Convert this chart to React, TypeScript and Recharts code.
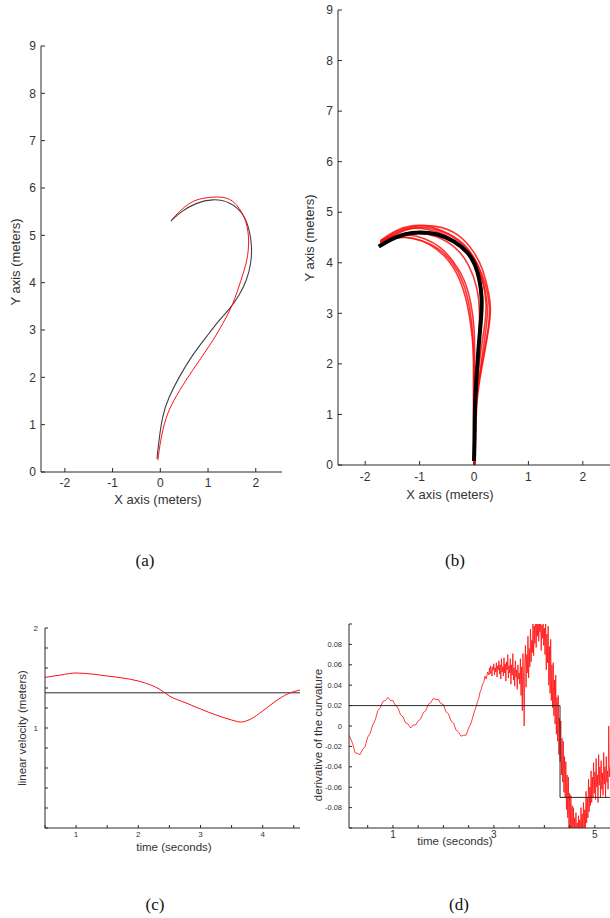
import { LineChart, Line, XAxis, YAxis, Label, ReferenceLine } from "recharts";

const INK = "#2a2a2a";
const TEXT = "#333333";
const RED = "#ff1010";
const SANS = "'Liberation Sans', Arial, sans-serif";
const SERIF = "'Liberation Serif', 'Times New Roman', serif";

type Pair = [number, number];

// (a) one run: planned path vs executed path, (x, y) in meters
const aTicksX = [-2, -1, 0, 1, 2];
const aTicksY = [0, 1, 2, 3, 4, 5, 6, 7, 8, 9];
const aPlanned: Pair[] = [
  [-0.07, 0.28], [-0.035, 0.6], [0.05, 1.16], [0.19, 1.59], [0.4, 2.01], [0.68, 2.47],
  [0.96, 2.85], [1.24, 3.21], [1.45, 3.45], [1.65, 3.74], [1.8, 4.05], [1.89, 4.4],
  [1.91, 4.76], [1.86, 5.11], [1.72, 5.45], [1.45, 5.68], [1.1, 5.75], [0.75, 5.67],
  [0.45, 5.5], [0.22, 5.3],
];
const aExecuted: Pair[] = [
  [-0.05, 0.25], [0.01, 0.67], [0.12, 1.13], [0.29, 1.52], [0.54, 1.94], [0.82, 2.36],
  [1.1, 2.78], [1.31, 3.14], [1.52, 3.56], [1.69, 4.05], [1.81, 4.47], [1.85, 4.9],
  [1.79, 5.29], [1.65, 5.57], [1.45, 5.76], [1.17, 5.81], [0.89, 5.78], [0.64, 5.69],
  [0.4, 5.5], [0.24, 5.33],
];

// (b) repeated runs
const bTicksX = [-2, -1, 0, 1, 2];
const bTicksY = [0, 1, 2, 3, 4, 5, 6, 7, 8, 9];
const bPlanned: Pair[] = [
  [0.0, 0.08], [0.01, 0.6], [0.02, 1.2], [0.05, 1.8], [0.09, 2.4], [0.13, 2.9], [0.14, 3.3],
  [0.1, 3.65], [0.02, 3.95], [-0.12, 4.2], [-0.37, 4.42], [-0.67, 4.56], [-1.0, 4.6],
  [-1.28, 4.56], [-1.52, 4.46], [-1.75, 4.32],
];
const bRun1: Pair[] = [
  [0.02, 0.0], [0.03, 0.6], [0.06, 1.3], [0.14, 1.9], [0.24, 2.5], [0.3, 3.0], [0.27, 3.4],
  [0.16, 3.85], [0.0, 4.2], [-0.3, 4.55], [-0.7, 4.72], [-1.1, 4.72], [-1.45, 4.6], [-1.72, 4.43],
];
const bRun2: Pair[] = [
  [0.01, 0.0], [0.02, 0.8], [0.05, 1.5], [0.12, 2.2], [0.2, 2.8], [0.22, 3.2], [0.17, 3.6],
  [0.05, 4.0], [-0.2, 4.35], [-0.55, 4.6], [-0.95, 4.7], [-1.3, 4.63], [-1.72, 4.42],
];
const bRun3: Pair[] = [
  [0.0, 0.0], [0.0, 1.0], [0.03, 1.7], [0.08, 2.4], [0.1, 3.0], [0.05, 3.5], [-0.1, 3.95],
  [-0.35, 4.3], [-0.7, 4.52], [-1.05, 4.58], [-1.4, 4.52], [-1.72, 4.4],
];
const bRun4: Pair[] = [
  [0.0, 0.0], [-0.01, 1.1], [-0.01, 1.8], [-0.02, 2.5], [-0.08, 3.1], [-0.2, 3.6], [-0.4, 4.0],
  [-0.65, 4.27], [-0.95, 4.43], [-1.25, 4.5], [-1.5, 4.48], [-1.72, 4.4],
];
const bRun5: Pair[] = [
  [0.0, 0.0], [0.0, 1.2], [0.0, 2.0], [-0.04, 2.6], [-0.13, 3.2], [-0.28, 3.7], [-0.5, 4.08],
  [-0.8, 4.35], [-1.1, 4.48], [-1.4, 4.5], [-1.72, 4.41],
];
const bRun6: Pair[] = [
  [0.01, 0.0], [0.02, 1.0], [0.08, 1.6], [0.17, 2.3], [0.24, 2.9], [0.22, 3.35], [0.1, 3.8],
  [-0.1, 4.15], [-0.45, 4.5], [-0.85, 4.66], [-1.25, 4.66], [-1.72, 4.42],
];
const bRun7: Pair[] = [
  [0.0, 0.0], [0.0, 1.4], [0.01, 2.1], [0.0, 2.7], [-0.06, 3.2], [-0.18, 3.65], [-0.38, 4.02],
  [-0.62, 4.3], [-0.9, 4.47], [-1.2, 4.55], [-1.5, 4.52], [-1.72, 4.42],
];
const bRun8: Pair[] = [
  [0.02, 0.0], [0.03, 0.9], [0.07, 1.5], [0.16, 2.1], [0.26, 2.7], [0.28, 3.15], [0.2, 3.6],
  [0.05, 4.0], [-0.2, 4.38], [-0.6, 4.64], [-1.0, 4.74], [-1.4, 4.65], [-1.72, 4.44],
];
const bRuns = [bRun1, bRun2, bRun3, bRun4, bRun5, bRun6, bRun7, bRun8];

// (c) linear velocity over time
const cTicksX = [0.5, 1, 1.5, 2, 2.5, 3, 3.5, 4, 4.5];
const cTicksY = [0, 0.2, 0.4, 0.6, 0.8, 1, 1.2, 1.4, 1.6, 1.8, 2];
const cTime = [0.5, 0.75, 1.0, 1.25, 1.5, 1.75, 2.0, 2.2, 2.35, 2.5, 2.75, 3.0, 3.25, 3.5, 3.65, 3.8, 4.0, 4.2, 4.4, 4.6];
const cVelocity = [1.506, 1.53, 1.55, 1.54, 1.52, 1.5, 1.47, 1.43, 1.385, 1.32, 1.255, 1.19, 1.13, 1.08, 1.06, 1.087, 1.17, 1.265, 1.34, 1.38];
const cCommanded = 1.352;

// (d) derivative of the curvature over time
const dTicksX = [0.5, 1, 1.5, 2, 2.5, 3, 3.5, 4, 4.5, 5];
const dTicksY = [-0.1, -0.08, -0.06, -0.04, -0.02, 0, 0.02, 0.04, 0.06, 0.08, 0.1];
const dMeasured: Pair[] = [
  [0.13, -0.009], [0.15, -0.011], [0.2, -0.017], [0.25, -0.026], [0.3, -0.027], [0.35, -0.028],
  [0.4, -0.023], [0.45, -0.02], [0.5, -0.011], [0.55, -0.007], [0.6, 0.001], [0.65, 0.006],
  [0.7, 0.015], [0.75, 0.018], [0.8, 0.024], [0.85, 0.025], [0.9, 0.028], [0.95, 0.025],
  [1.0, 0.025], [1.05, 0.02], [1.1, 0.018], [1.15, 0.011], [1.2, 0.009], [1.25, 0.003],
  [1.3, 0.002], [1.35, -0.002], [1.4, 0.001], [1.45, 0.001], [1.5, 0.005], [1.55, 0.007],
  [1.6, 0.013], [1.65, 0.015], [1.7, 0.021], [1.75, 0.023], [1.8, 0.027], [1.85, 0.026],
  [1.9, 0.026], [1.95, 0.022], [2.0, 0.021], [2.05, 0.014], [2.1, 0.012], [2.15, 0.005],
  [2.2, 0.003], [2.25, -0.004], [2.3, -0.006], [2.35, -0.01], [2.4, -0.009], [2.45, -0.009],
  [2.5, -0.002], [2.55, 0.003], [2.6, 0.012],
  [2.625, 0.016], [2.65, 0.019], [2.675, 0.024], [2.7, 0.027], [2.725, 0.033], [2.75, 0.036],
  [2.775, 0.041], [2.8, 0.043], [2.825, 0.049], [2.85, 0.046], [2.875, 0.053], [2.9, 0.05],
  [2.9125, 0.057], [2.925, 0.051], [2.9375, 0.059], [2.95, 0.054], [2.9625, 0.049], [2.975, 0.058],
  [2.9875, 0.055], [3.0, 0.061], [3.0125, 0.05], [3.025, 0.057], [3.0375, 0.053], [3.05, 0.062],
  [3.0625, 0.048], [3.075, 0.059], [3.0875, 0.055], [3.1, 0.064], [3.1125, 0.051], [3.125, 0.06],
  [3.1375, 0.046], [3.15, 0.066], [3.1625, 0.053], [3.175, 0.058], [3.1875, 0.049], [3.2, 0.067],
  [3.2125, 0.052], [3.225, 0.061], [3.2375, 0.044], [3.25, 0.063], [3.2625, 0.055], [3.275, 0.07],
  [3.2875, 0.047], [3.3, 0.059], [3.3125, 0.052], [3.325, 0.066], [3.3375, 0.041], [3.35, 0.06],
  [3.3625, 0.05], [3.375, 0.071], [3.3875, 0.045], [3.4, 0.057], [3.4125, 0.039], [3.425, 0.064],
  [3.4375, 0.048], [3.45, 0.055], [3.4625, 0.036], [3.475, 0.06], [3.4875, 0.046], [3.5, 0.052],
  [3.5125, 0.041], [3.525, 0.066], [3.5375, 0.03], [3.55, 0.058], [3.5625, 0.015], [3.575, 0.071],
  [3.5875, 0.045], [3.6, 0.0], [3.6125, 0.062], [3.625, 0.079], [3.6375, 0.038], [3.65, 0.07],
  [3.6625, 0.052], [3.675, 0.088], [3.6875, 0.047], [3.7, 0.076], [3.7125, 0.058], [3.725, 0.095],
  [3.7375, 0.063], [3.75, 0.084], [3.7625, 0.072], [3.775, 0.105], [3.7875, 0.069], [3.8, 0.098],
  [3.8125, 0.081], [3.825, 0.11], [3.8375, 0.077], [3.85, 0.104], [3.8625, 0.088], [3.875, 0.112],
  [3.8875, 0.083], [3.9, 0.101], [3.9125, 0.092], [3.925, 0.108], [3.9375, 0.074], [3.95, 0.099],
  [3.9625, 0.086], [3.975, 0.111], [3.9875, 0.079], [4.0, 0.096], [4.0125, 0.07], [4.025, 0.104],
  [4.0375, 0.055], [4.05, 0.09], [4.0625, 0.062], [4.075, 0.098], [4.0875, 0.04], [4.1, 0.078],
  [4.1125, 0.032], [4.125, 0.085], [4.1375, 0.025], [4.15, 0.06], [4.1625, 0.018], [4.175, 0.062],
  [4.1875, 0.01], [4.2, 0.045], [4.2125, 0.002], [4.225, 0.05], [4.2375, -0.008], [4.25, 0.028],
  [4.2625, -0.015], [4.275, 0.03], [4.2875, -0.028], [4.3, 0.008], [4.3125, -0.035], [4.325, 0.005],
  [4.3375, -0.048], [4.35, -0.012], [4.3625, -0.055], [4.375, -0.015], [4.3875, -0.065], [4.4, -0.03],
  [4.4125, -0.07], [4.425, -0.035], [4.4375, -0.082], [4.45, -0.048], [4.4625, -0.09], [4.475, -0.05],
  [4.4875, -0.1], [4.5, -0.066], [4.5125, -0.108], [4.525, -0.068], [4.5375, -0.112], [4.55, -0.078],
  [4.5625, -0.115], [4.575, -0.08], [4.5875, -0.108], [4.6, -0.09], [4.6125, -0.118], [4.625, -0.085],
  [4.6375, -0.112], [4.65, -0.095], [4.6625, -0.12], [4.675, -0.088], [4.6875, -0.11], [4.7, -0.092],
  [4.7125, -0.116], [4.725, -0.08], [4.7375, -0.108], [4.75, -0.086], [4.7625, -0.112], [4.775, -0.075],
  [4.7875, -0.104], [4.8, -0.082], [4.8125, -0.1], [4.825, -0.064], [4.8375, -0.095], [4.85, -0.07],
  [4.8625, -0.09], [4.875, -0.052], [4.8875, -0.084], [4.9, -0.06], [4.9125, -0.078], [4.925, -0.044],
  [4.9375, -0.075], [4.95, -0.05], [4.9625, -0.07], [4.975, -0.036], [4.9875, -0.066], [5.0, -0.045],
  [5.0125, -0.072], [5.025, -0.032], [5.0375, -0.06], [5.05, -0.048], [5.0625, -0.075], [5.075, -0.028],
  [5.0875, -0.058], [5.1, -0.04], [5.1125, -0.07], [5.125, -0.034], [5.1375, -0.062], [5.15, -0.046],
  [5.1625, -0.068], [5.175, -0.026], [5.1875, -0.057], [5.2, -0.04], [5.2125, -0.07], [5.225, -0.03],
  [5.2375, -0.055], [5.25, -0.044], [5.2625, -0.062], [5.275, 0.0], [5.2875, -0.05], [5.3, -0.04],
];
const dStepTime = [0.13, 4.31, 4.31, 5.3];
const dStepValue = [0.02, 0.02, -0.07, -0.07];

const toPoints = (pairs: Pair[]) => pairs.map(([x, y]) => ({ x, y }));
const zipPoints = (xs: number[], ys: number[]) => xs.map((x, i) => ({ x, y: ys[i] }));

function title(text: string, x: number, y: number, size: number, vertical = false) {
  return (
    <Label
      content={() => (
        <text
          x={x}
          y={y}
          fill={TEXT}
          fontSize={size}
          fontFamily={SANS}
          textAnchor="middle"
          dominantBaseline="central"
          transform={vertical ? `rotate(-90 ${x} ${y})` : undefined}
        >
          {text}
        </text>
      )}
    />
  );
}

const axisLine = { stroke: INK };
const tickLine = { stroke: INK };

function Caption({ text, x, y }: { text: string; x: number; y: number }) {
  return (
    <div
      style={{
        position: "absolute",
        left: x - 30,
        top: y - 12,
        width: 60,
        textAlign: "center",
        fontFamily: SERIF,
        fontSize: 17,
        color: "#111",
        lineHeight: "24px",
      }}
    >
      {text}
    </div>
  );
}

export default function App() {
  return (
    <div style={{ position: "absolute", left: 0, top: 0, width: 610, height: 918, background: "#fff", overflow: "hidden" }}>
      {/* (a) */}
      <div style={{ position: "absolute", left: 0, top: 0 }}>
        <LineChart width={300} height={510} margin={{ top: 46, right: 18, bottom: 0, left: 0 }}>
          <XAxis
            type="number"
            dataKey="x"
            domain={[-2.5, 2.55]}
            ticks={aTicksX}
            interval={0}
            allowDataOverflow
            height={38}
            tickSize={-4}
            tickMargin={10}
            axisLine={axisLine}
            tickLine={tickLine}
            tick={{ fontSize: 12, fill: TEXT, fontFamily: SANS }}
          >
            {title("X axis (meters)", 158, 499, 13)}
          </XAxis>
          <YAxis
            type="number"
            dataKey="y"
            domain={[0, 9]}
            ticks={aTicksY}
            interval={0}
            allowDataOverflow
            width={41}
            tickSize={-4}
            tickMargin={9}
            axisLine={axisLine}
            tickLine={tickLine}
            tick={{ fontSize: 12, fill: TEXT, fontFamily: SANS }}
          >
            {title("Y axis (meters)", 15, 262, 13, true)}
          </YAxis>
          <Line data={toPoints(aPlanned)} dataKey="y" type="natural" stroke="#404040" strokeWidth={1.1} dot={false} activeDot={false} isAnimationActive={false} />
          <Line data={toPoints(aExecuted)} dataKey="y" type="natural" stroke={RED} strokeWidth={1} dot={false} activeDot={false} isAnimationActive={false} />
        </LineChart>
      </div>

      {/* (b) */}
      <div style={{ position: "absolute", left: 300, top: 0 }}>
        <LineChart width={310} height={510} margin={{ top: 10, right: 0, bottom: 0, left: 0 }}>
          <XAxis
            type="number"
            dataKey="x"
            domain={[-2.5, 2.5]}
            ticks={bTicksX}
            interval={0}
            allowDataOverflow
            height={45}
            tickSize={-4}
            tickMargin={11}
            axisLine={axisLine}
            tickLine={tickLine}
            tick={{ fontSize: 12, fill: TEXT, fontFamily: SANS }}
          >
            {title("X axis (meters)", 150, 494, 13)}
          </XAxis>
          <YAxis
            type="number"
            dataKey="y"
            domain={[0, 9]}
            ticks={bTicksY}
            interval={0}
            allowDataOverflow
            width={38}
            tickSize={-4}
            tickMargin={9}
            axisLine={axisLine}
            tickLine={tickLine}
            tick={{ fontSize: 12, fill: TEXT, fontFamily: SANS }}
          >
            {title("Y axis (meters)", 9, 238, 13, true)}
          </YAxis>
          {bRuns.map((run, i) => (
            <Line
              key={i}
              data={toPoints(run)}
              dataKey="y"
              type="natural"
              stroke={RED}
              strokeWidth={1.6}
              strokeOpacity={0.85}
              dot={false}
              activeDot={false}
              isAnimationActive={false}
            />
          ))}
          <Line data={toPoints(bPlanned)} dataKey="y" type="natural" stroke="#000" strokeWidth={4} dot={false} activeDot={false} isAnimationActive={false} />
        </LineChart>
      </div>

      {/* (c) */}
      <div style={{ position: "absolute", left: 0, top: 600 }}>
        <LineChart width={305} height={260} margin={{ top: 28, right: 5, bottom: 0, left: 0 }}>
          <XAxis
            type="number"
            dataKey="x"
            domain={[0.5, 4.6]}
            ticks={cTicksX}
            interval={0}
            allowDataOverflow
            height={32}
            tickSize={-3}
            tickMargin={6}
            axisLine={axisLine}
            tickLine={tickLine}
            tick={{ fontSize: 8, fill: TEXT, fontFamily: SANS }}
            tickFormatter={(v: number) => (Number.isInteger(v) ? String(v) : "")}
          >
            {title("time (seconds)", 174, 247, 11.5)}
          </XAxis>
          <YAxis
            type="number"
            dataKey="y"
            domain={[0, 2]}
            ticks={cTicksY}
            interval={0}
            allowDataOverflow
            width={45}
            tickSize={-3}
            tickMargin={10}
            axisLine={axisLine}
            tickLine={tickLine}
            tick={{ fontSize: 8, fill: TEXT, fontFamily: SANS }}
            tickFormatter={(v: number) => (v === 1 || v === 2 ? String(v) : "")}
          >
            {title("linear velocity (meters)", 22, 128, 11.5, true)}
          </YAxis>
          <ReferenceLine y={cCommanded} stroke={INK} strokeWidth={1} />
          <Line data={zipPoints(cTime, cVelocity)} dataKey="y" type="monotone" stroke={RED} strokeWidth={1} dot={false} activeDot={false} isAnimationActive={false} />
        </LineChart>
      </div>

      {/* (d) */}
      <div style={{ position: "absolute", left: 305, top: 600 }}>
        <LineChart width={305} height={260} margin={{ top: 24, right: 0, bottom: 0, left: 0 }}>
          <XAxis
            type="number"
            dataKey="x"
            domain={[0.13, 5.3]}
            ticks={dTicksX}
            interval={0}
            allowDataOverflow
            height={32}
            tickSize={-3}
            tickMargin={6}
            axisLine={axisLine}
            tickLine={tickLine}
            tick={{ fontSize: 10, fill: TEXT, fontFamily: SANS }}
            tickFormatter={(v: number) => (v === 1 || v === 3 || v === 5 ? String(v) : "")}
          >
            {title("time (seconds)", 150, 241, 11.5)}
          </XAxis>
          <YAxis
            type="number"
            dataKey="y"
            domain={[-0.1, 0.1]}
            ticks={dTicksY}
            interval={0}
            allowDataOverflow
            width={44}
            tickSize={-3}
            tickMargin={10}
            axisLine={axisLine}
            tickLine={tickLine}
            tick={{ fontSize: 7.5, fill: TEXT, fontFamily: SANS }}
            tickFormatter={(v: number) => (Math.abs(v) > 0.09 ? "" : v === 0 ? "0" : v.toFixed(2))}
          >
            {title("derivative of the curvature", 13, 135, 11.5, true)}
          </YAxis>
          <Line data={toPoints(dMeasured)} dataKey="y" type="linear" stroke={RED} strokeWidth={0.9} strokeOpacity={0.9} dot={false} activeDot={false} isAnimationActive={false} />
          <Line data={zipPoints(dStepTime, dStepValue)} dataKey="y" type="linear" stroke={INK} strokeWidth={1} dot={false} activeDot={false} isAnimationActive={false} />
        </LineChart>
      </div>

      <Caption text="(a)" x={145} y={561} />
      <Caption text="(b)" x={455} y={561} />
      <Caption text="(c)" x={155} y={905} />
      <Caption text="(d)" x={459} y={905} />
    </div>
  );
}
